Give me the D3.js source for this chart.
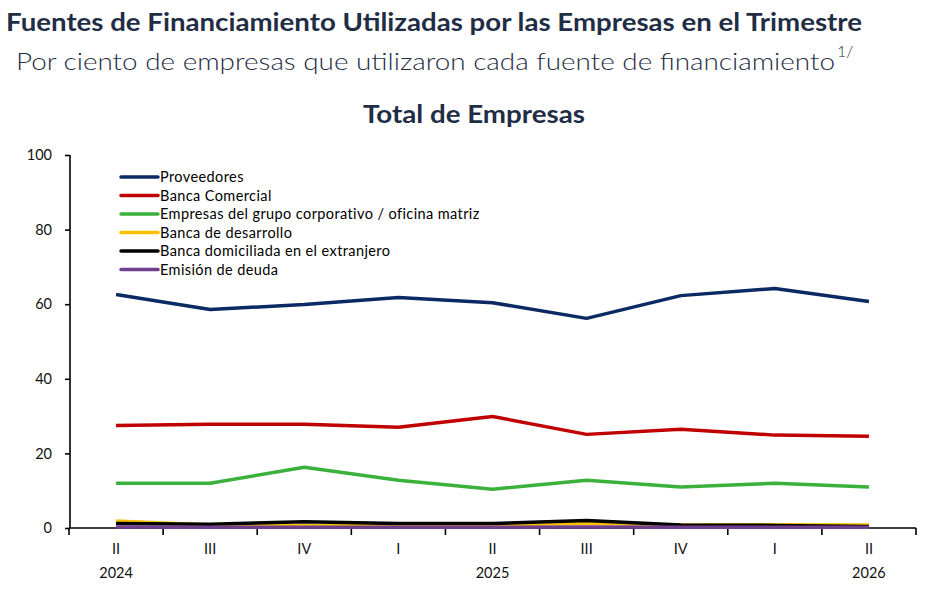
<!DOCTYPE html>
<html lang="es">
<head>
<meta charset="UTF-8">
<title>Fuentes de Financiamiento</title>
<script src="https://cdn.jsdelivr.net/npm/d3@7"></script>
<style>
  body { margin: 0; background: #fff; }
  svg text { font-family: Lato, "Open Sans", sans-serif; }
  .ttl { fill: #1f2d45; }
  .axis text { font-size: 14.5px; fill: #111; }
  .axis path, .axis line { stroke: #000; stroke-width: 1.6; }
  .leg text { font-size: 14.5px; fill: #000; letter-spacing: 0.4px; }
</style>
</head>
<body>
<svg id="chart" width="931" height="596"></svg>
<script>
// trimestres y años
const quarters = ["II", "III", "IV", "I", "II", "III", "IV", "I", "II"]
const years = ["2024", "", "", "", "2025", "", "", "", "2026"]
const yTicks = [0, 20, 40, 60, 80, 100]

// series (por ciento de empresas)
const seriesNames = ["Proveedores", "Banca Comercial", "Empresas del grupo corporativo / oficina matriz",
  "Banca de desarrollo", "Banca domiciliada en el extranjero", "Emisión de deuda"]
const proveedores = [62.6, 58.6, 59.9, 61.8, 60.4, 56.2, 62.3, 64.2, 60.7]
const bancaComercial = [27.5, 27.8, 27.8, 27.0, 29.9, 25.1, 26.5, 24.9, 24.6]
const empresasGrupo = [12.0, 12.0, 16.3, 12.8, 10.4, 12.8, 11.0, 12.0, 11.0]
const bancaDesarrollo = [1.9, 0.8, 0.6, 0.6, 0.8, 1.3, 0.8, 0.9, 0.8]
const bancaExtranjero = [1.2, 1.0, 1.7, 1.2, 1.2, 2.0, 0.8, 0.7, 0.4]
const emisionDeuda = [0.3, 0.2, 0.2, 0.2, 0.2, 0.3, 0.2, 0.2, 0.2]
const colors = ["#0b2a63", "#c00000", "#3bb13c", "#ffc000", "#000000", "#70408f"]

const allSeries = [proveedores, bancaComercial, empresasGrupo, bancaDesarrollo, bancaExtranjero, emisionDeuda]

const svg = d3.select("#chart")

// titulos
svg.append("text").attr("class", "ttl").attr("x", 6).attr("y", 31)
  .attr("font-size", 25).attr("font-weight", "bold")
  .attr("textLength", 856).attr("lengthAdjust", "spacingAndGlyphs")
  .text("Fuentes de Financiamiento Utilizadas por las Empresas en el Trimestre")

svg.append("text").attr("class", "ttl").attr("x", 16).attr("y", 70)
  .attr("font-size", 24).attr("font-weight", 300)
  .attr("textLength", 819).attr("lengthAdjust", "spacingAndGlyphs")
  .text("Por ciento de empresas que utilizaron cada fuente de financiamiento")
svg.append("text").attr("class", "ttl").attr("x", 837).attr("y", 57)
  .attr("font-size", 16).attr("font-weight", 300).text("1/")

svg.append("text").attr("class", "ttl").attr("x", 474).attr("y", 123)
  .attr("font-size", 24).attr("font-weight", "bold").attr("text-anchor", "middle")
  .attr("textLength", 222).attr("lengthAdjust", "spacingAndGlyphs")
  .text("Total de Empresas")

// escalas
const x0 = 69, x1 = 916, yTop = 155, yBot = 528
const xBand = d3.scaleBand().domain(d3.range(quarters.length)).range([x0, x1])
const x = d3.scalePoint().domain(d3.range(quarters.length)).range([x0, x1]).padding(0.5)
const y = d3.scaleLinear().domain([0, 100]).range([yBot, yTop])

// eje y
const yAxis = svg.append("g").attr("class", "axis").attr("transform", `translate(${x0 + 1},0)`)
  .call(d3.axisLeft(y).tickValues(yTicks).tickSize(5).tickPadding(13))
yAxis.select(".domain").attr("d", `M0,${yBot}V${yTop}`)

// eje x
const xAxis = svg.append("g").attr("class", "axis").attr("transform", `translate(0,${yBot})`)
xAxis.append("path").attr("class", "domain").attr("fill", "none").attr("d", `M${x0},0H${x1}`)
const bounds = d3.range(quarters.length + 1).map(i => i < quarters.length ? xBand(i) : x1)
xAxis.selectAll(".tk").data(bounds).enter().append("line")
  .attr("x1", d => d).attr("x2", d => d).attr("y1", 0).attr("y2", 7)
xAxis.selectAll(".q").data(quarters).enter().append("text")
  .attr("x", (d, i) => x(i)).attr("y", 26).attr("text-anchor", "middle").text(d => d)
xAxis.selectAll(".yr").data(years).enter().append("text")
  .attr("x", (d, i) => x(i)).attr("y", 50).attr("text-anchor", "middle").text(d => d)

// lineas
const line = d3.line().x((d, i) => x(i)).y(d => y(d))
svg.append("g").selectAll("path").data(allSeries).enter().append("path")
  .attr("d", line).attr("fill", "none")
  .attr("stroke", (d, i) => colors[i]).attr("stroke-width", 3.5)
  .attr("stroke-linejoin", "round")

// leyenda
const leg = svg.append("g").attr("class", "leg")
const legRows = leg.selectAll("g").data(seriesNames).enter().append("g")
  .attr("transform", (d, i) => `translate(121,${177 + i * 18.5})`)
legRows.append("line").attr("x1", 0).attr("x2", 37).attr("y1", 0).attr("y2", 0)
  .attr("stroke", (d, i) => colors[i]).attr("stroke-width", 3.5).attr("stroke-linecap", "round")
legRows.append("text").attr("x", 39).attr("y", 5).text(d => d)
</script>
</body>
</html>
